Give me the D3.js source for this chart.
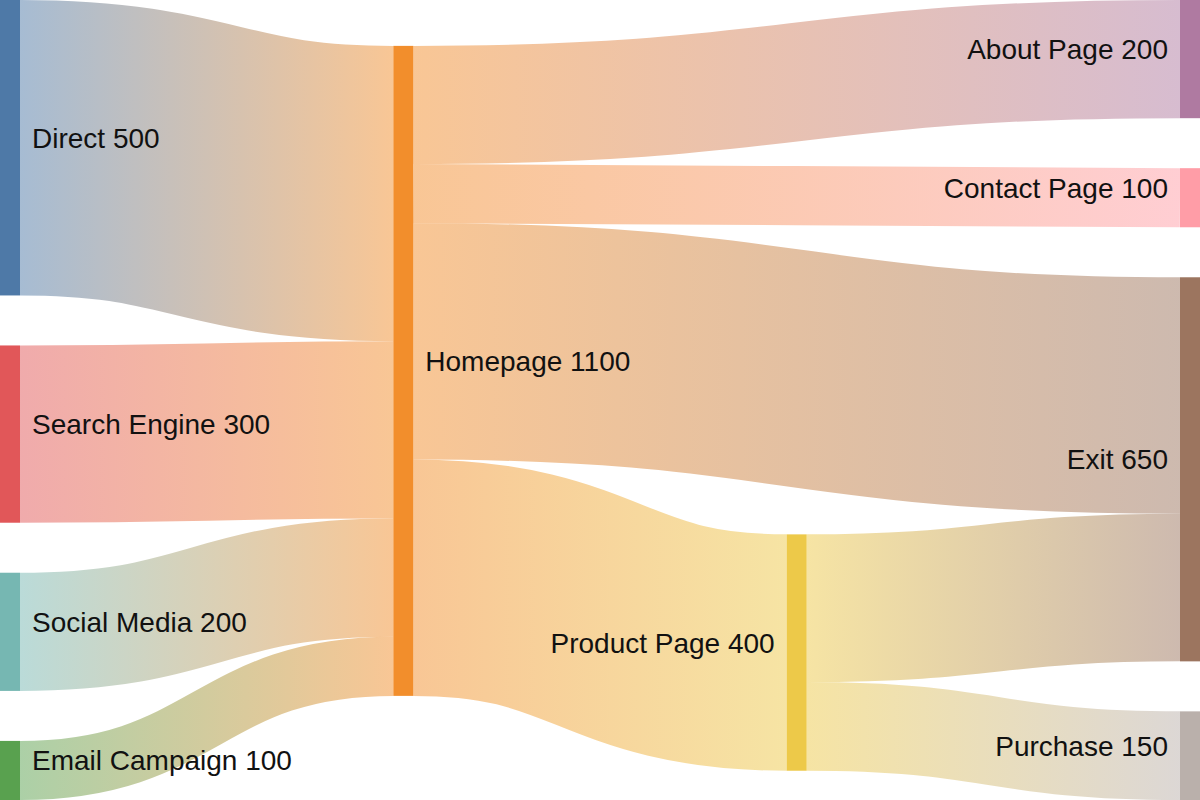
<!DOCTYPE html>
<html>
<head>
<meta charset="utf-8">
<script src="https://cdn.jsdelivr.net/npm/d3@7"></script>
<style>
  html, body { margin: 0; padding: 0; background: #fff; }
  svg { display: block; }
</style>
</head>
<body>
<div id="chart"></div>
<script>
// node names, in the order they first appear in the flows
const nodeNames = [
  "Direct", "Homepage", "Search Engine", "Social Media", "Email Campaign",
  "Product Page", "About Page", "Contact Page", "Exit", "Purchase"
];

// flows: source, target, visitors
const linkSources = ["Direct", "Search Engine", "Social Media", "Email Campaign",
                     "Homepage", "Homepage", "Homepage", "Homepage",
                     "Product Page", "Product Page"];
const linkTargets = ["Homepage", "Homepage", "Homepage", "Homepage",
                     "Product Page", "About Page", "Contact Page", "Exit",
                     "Exit", "Purchase"];
const linkValues  = [500, 300, 200, 100, 400, 200, 100, 400, 250, 150];

const width  = 1200;
const height = 800;
const nodeWidth   = 20;
const nodePadding = 50;
const iterations  = 6;
const labelGap    = 12;

const colour = d3.scaleOrdinal(nodeNames, d3.schemeTableau10);

/* ---- build graph ---- */
const nodes = nodeNames.map((name, i) => ({ name, index: i, sourceLinks: [], targetLinks: [] }));
const byName = new Map(nodes.map(n => [n.name, n]));
const links = linkValues.map((value, i) => ({
  index: i,
  source: byName.get(linkSources[i]),
  target: byName.get(linkTargets[i]),
  value
}));
links.forEach(l => { l.source.sourceLinks.push(l); l.target.targetLinks.push(l); });

nodes.forEach(n => {
  n.value = Math.max(d3.sum(n.sourceLinks, l => l.value), d3.sum(n.targetLinks, l => l.value));
});

/* depths (breadth first) */
let current = new Set(nodes), next = new Set(), depth = 0;
while (current.size) {
  for (const n of current) {
    n.depth = depth;
    n.sourceLinks.forEach(l => next.add(l.target));
  }
  depth++;
  current = next; next = new Set();
}

/* columns, justified: sinks go to the last column */
const nCols = d3.max(nodes, d => d.depth) + 1;
const x = d3.scalePoint(d3.range(nCols), [0, width - nodeWidth]);
const columns = d3.range(nCols).map(() => []);
nodes.forEach(n => {
  n.layer = n.sourceLinks.length ? n.depth : nCols - 1;
  n.x0 = x(n.layer);
  n.x1 = n.x0 + nodeWidth;
  columns[n.layer].push(n);
});

const py = Math.min(nodePadding, height / (d3.max(columns, c => c.length) - 1));
const ky = d3.min(columns, c => (height - (c.length - 1) * py) / d3.sum(c, d => d.value));
const y = d3.scaleLinear([0, 1], [0, ky]);   // value -> pixel thickness

const byBreadth = (a, b) => a.y0 - b.y0;
const bySourceBreadth = (a, b) => byBreadth(a.source, b.source) || a.index - b.index;
const byTargetBreadth = (a, b) => byBreadth(a.target, b.target) || a.index - b.index;

function reorderLinks(col) {
  col.forEach(n => { n.sourceLinks.sort(byTargetBreadth); n.targetLinks.sort(bySourceBreadth); });
}
function reorderNodeLinks(n) {
  n.targetLinks.forEach(l => l.source.sourceLinks.sort(byTargetBreadth));
  n.sourceLinks.forEach(l => l.target.targetLinks.sort(bySourceBreadth));
}

/* initial breadths */
columns.forEach(col => {
  let yy = 0;
  col.forEach(n => {
    n.y0 = yy;
    n.y1 = yy + y(n.value);
    yy = n.y1 + py;
    n.sourceLinks.forEach(l => l.width = y(l.value));
  });
  const shift = (height - yy + py) / (col.length + 1);
  col.forEach((n, i) => { n.y0 += shift * (i + 1); n.y1 += shift * (i + 1); });
  reorderLinks(col);
});

function targetTop(source, target) {
  let yy = source.y0 - (source.sourceLinks.length - 1) * py / 2;
  for (const l of source.sourceLinks) { if (l.target === target) break; yy += l.width + py; }
  for (const l of target.targetLinks) { if (l.source === source) break; yy -= l.width; }
  return yy;
}
function sourceTop(source, target) {
  let yy = target.y0 - (target.targetLinks.length - 1) * py / 2;
  for (const l of target.targetLinks) { if (l.source === source) break; yy += l.width + py; }
  for (const l of source.sourceLinks) { if (l.target === target) break; yy -= l.width; }
  return yy;
}

function collideTopToBottom(col, yy, i, alpha) {
  for (; i < col.length; ++i) {
    const n = col[i];
    const dy = (yy - n.y0) * alpha;
    if (dy > 1e-6) { n.y0 += dy; n.y1 += dy; }
    yy = n.y1 + py;
  }
}
function collideBottomToTop(col, yy, i, alpha) {
  for (; i >= 0; --i) {
    const n = col[i];
    const dy = (n.y1 - yy) * alpha;
    if (dy > 1e-6) { n.y0 -= dy; n.y1 -= dy; }
    yy = n.y0 - py;
  }
}
function resolveCollisions(col, alpha) {
  const i = col.length >> 1;
  const subject = col[i];
  collideBottomToTop(col, subject.y0 - py, i - 1, alpha);
  collideTopToBottom(col, subject.y1 + py, i + 1, alpha);
  collideBottomToTop(col, height, col.length - 1, alpha);
  collideTopToBottom(col, 0, 0, alpha);
}

for (let it = 0; it < iterations; ++it) {
  const alpha = Math.pow(0.99, it);
  const beta = Math.max(1 - alpha, (it + 1) / iterations);

  // right to left
  for (let i = nCols - 2; i >= 0; --i) {
    const col = columns[i];
    col.forEach(src => {
      let s = 0, w = 0;
      src.sourceLinks.forEach(l => {
        const v = l.value * (l.target.layer - src.layer);
        s += sourceTop(src, l.target) * v;
        w += v;
      });
      if (!(w > 0)) return;
      const dy = (s / w - src.y0) * alpha;
      src.y0 += dy; src.y1 += dy;
      reorderNodeLinks(src);
    });
    col.sort(byBreadth);
    resolveCollisions(col, beta);
  }
  // left to right
  for (let i = 1; i < nCols; ++i) {
    const col = columns[i];
    col.forEach(tgt => {
      let s = 0, w = 0;
      tgt.targetLinks.forEach(l => {
        const v = l.value * (tgt.layer - l.source.layer);
        s += targetTop(l.source, tgt) * v;
        w += v;
      });
      if (!(w > 0)) return;
      const dy = (s / w - tgt.y0) * alpha;
      tgt.y0 += dy; tgt.y1 += dy;
      reorderNodeLinks(tgt);
    });
    col.sort(byBreadth);
    resolveCollisions(col, beta);
  }
}

/* link breadths */
nodes.forEach(n => {
  let a = n.y0, b = n.y0;
  n.sourceLinks.forEach(l => { l.y0 = a + l.width / 2; a += l.width; });
  n.targetLinks.forEach(l => { l.y1 = b + l.width / 2; b += l.width; });
});

/* ---- draw ---- */
const svg = d3.select("#chart").append("svg")
  .attr("width", width)
  .attr("height", height)
  .attr("viewBox", [0, 0, width, height]);

const defs = svg.append("defs");

const linkPath = d3.linkHorizontal()
  .source(d => [d.source.x1, d.y0])
  .target(d => [d.target.x0, d.y1]);

const link = svg.append("g")
  .attr("fill", "none")
  .attr("stroke-opacity", 0.5)
  .selectAll("g")
  .data(links)
  .join("g");

link.each(function (d) {
  const grad = defs.append("linearGradient")
    .attr("id", `grad-${d.index}`)
    .attr("gradientUnits", "userSpaceOnUse")
    .attr("x1", d.source.x1)
    .attr("x2", d.target.x0);
  grad.append("stop").attr("offset", "0%").attr("stop-color", colour(d.source.name));
  grad.append("stop").attr("offset", "100%").attr("stop-color", colour(d.target.name));
});

link.append("path")
  .attr("d", linkPath)
  .attr("stroke", d => `url(#grad-${d.index})`)
  .attr("stroke-width", d => Math.max(1, d.width));

svg.append("g")
  .selectAll("rect")
  .data(nodes)
  .join("rect")
    .attr("x", d => d.x0)
    .attr("y", d => d.y0)
    .attr("width", d => d.x1 - d.x0)
    .attr("height", d => d.y1 - d.y0)
    .attr("fill", d => colour(d.name));

svg.append("g")
  .attr("font-family", "'Liberation Sans', Arial, Helvetica, sans-serif")
  .attr("font-size", 28)
  .attr("fill", "#111")
  .selectAll("text")
  .data(nodes)
  .join("text")
    .attr("x", d => d.x0 < width / 2 ? d.x1 + labelGap : d.x0 - labelGap)
    .attr("y", d => (d.y0 + d.y1) / 2)
    .attr("text-anchor", d => d.x0 < width / 2 ? "start" : "end")
    .text(d => `${d.name} ${d.value}`);
</script>
</body>
</html>
